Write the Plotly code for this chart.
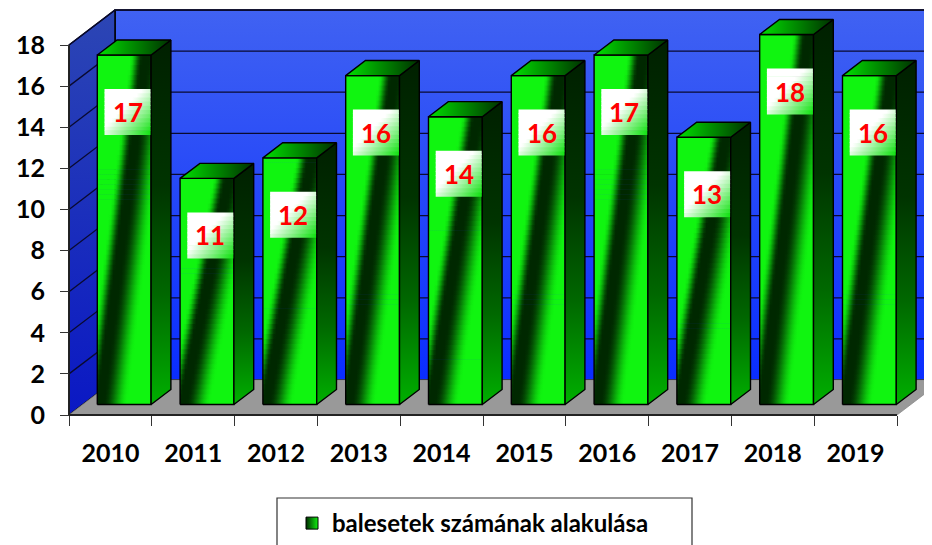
import plotly.graph_objects as go

# ---------------- data ----------------
years = ["2010", "2011", "2012", "2013", "2014", "2015", "2016", "2017", "2018", "2019"]
counts = [17, 11, 12, 16, 14, 16, 17, 13, 18, 16]
y_ticks = [0, 2, 4, 6, 8, 10, 12, 14, 16, 18]
series_name = "balesetek számának alakulása"

# ---------------- geometry (pixel calibration of the pseudo-3D box) ----------------
W, H = 932, 545
OFF = 8                          # page body margin offset
PX_X0, PX_Y0 = 69 - OFF, 415 - OFF   # front plane origin (figure px)
UX, UY = 82.8, 370 / 18          # px per category / px per unit
DX, DY = 46 / UX, 35 / UY        # full depth of the box in data units
BAR_D0, BAR_DD, BAR_W = 0.30, 0.43, 0.65
YTOP = y_ticks[-1]
N = len(years)

L, R, T, B = 40, W, 0, 432
xr = [(L - PX_X0) / UX, (R - PX_X0) / UX]
yr = [(PX_Y0 - B) / UY, (PX_Y0 - T) / UY]

FONT = "Lato"
traces = []


def poly(xs, ys, cs=None, kind="horizontal", color=None, lw=1.2, lc="black", fill=True):
    kw = dict(x=list(xs) + [xs[0]], y=list(ys) + [ys[0]], mode="lines",
              line=dict(color=lc, width=lw), hoverinfo="skip", showlegend=False)
    if fill:
        kw["fill"] = "toself"
        if cs is not None:
            kw["fillgradient"] = dict(type=kind, colorscale=cs)
        else:
            kw["fillcolor"] = color
    return go.Scatter(**kw)


def clip01(t):
    return max(0.0, min(1.0, t))


def mix(c0, c1, t):
    return "rgb(%d,%d,%d)" % tuple(round(a + (b - a) * t) for a, b in zip(c0, c1))


def sliced_rect(x0, x1, y0, y1, px_per_strip, colorfn, samples=21):
    """Rectangle built from thin horizontal strips, each with its own horizontal gradient,
    to imitate a diagonal gradient."""
    out = []
    n = max(4, round((y1 - y0) * UY / px_per_strip))
    eps = 0.7 / UY
    for k in range(n):
        ya = y0 + (y1 - y0) * k / n
        yb = min(y0 + (y1 - y0) * (k + 1) / n + eps, y1)
        h = (k + 0.5) / n
        cs = [[s / (samples - 1), colorfn(s / (samples - 1), h)] for s in range(samples)]
        out.append(poly([x0, x1, x1, x0], [ya, ya, yb, yb], cs=cs, kind="horizontal", lw=0))
    return out


BRIGHT, DARK = (16, 245, 16), (0, 40, 0)


def front_color(x, h):
    c = 0.05 + 0.85 * h
    d = x - c
    if d < 0:
        t = clip01((-d - 0.06) / 0.22)
    else:
        t = clip01((d - 0.06) / 0.45)
    t = t * t * (3 - 2 * t)
    return mix(DARK, BRIGHT, t)


WHITE, LGREEN = (255, 255, 255), (10, 225, 10)


def box_color(x, h):
    t = clip01(((x + 1 - h) / 2 - 0.42) / 0.58)
    return mix(WHITE, LGREEN, t)


# back wall
traces.append(poly([DX, N + DX, N + DX, DX], [DY, DY, YTOP + DY, YTOP + DY],
                   cs=[[0, "#0a2dff"], [1, "#4062f2"]], kind="vertical", lw=1.5))
# left wall
traces.append(poly([0, DX, DX, 0], [0, DY, YTOP + DY, YTOP],
                   cs=[[0, "#0a18c4"], [1, "#2c46b4"]], kind="vertical", lw=1.5))
# floor
traces.append(poly([0, N, N + DX, DX], [0, 0, DY, DY], color="#999999", lw=0.8, lc="#8a8a8a"))

# gridlines
gx, gy = [], []
for v in y_ticks[1:]:
    gx += [0, DX, N + DX, None]
    gy += [v, v + DY, v + DY, None]
traces.append(go.Scatter(x=gx, y=gy, mode="lines", line=dict(color="#0a0a30", width=1.3),
                         hoverinfo="skip", showlegend=False))
# axis lines
traces.append(go.Scatter(x=[0, 0, None, 0, N], y=[0, YTOP, None, 0, 0], mode="lines",
                         line=dict(color="#222222", width=1.8), hoverinfo="skip", showlegend=False))

# bars
side_cs = [[0, "#00b000"], [0.3, "#006800"], [0.6, "#003400"], [1, "#002000"]]
top_cs = [[0, "#00e000"], [1, "#003000"]]

annotations = []
for i, v in enumerate(counts):
    sx = i + (1 - BAR_W) / 2 + BAR_D0 * DX
    ex = sx + BAR_W
    by = BAR_D0 * DY
    ty = v + by
    ddx, ddy = BAR_DD * DX, BAR_DD * DY
    traces += sliced_rect(sx, ex, by, ty, 5, front_color)
    traces.append(poly([sx, ex, ex, sx], [by, by, ty, ty], lw=1.4, fill=False))
    traces.append(poly([ex, ex + ddx, ex + ddx, ex], [by, by + ddy, ty + ddy, ty],
                       cs=side_cs, kind="vertical", lw=1.4))
    traces.append(poly([sx, ex, ex + ddx, sx + ddx], [ty, ty, ty + ddy, ty + ddy],
                       cs=top_cs, kind="horizontal", lw=1.4))
    # data label box
    cx = (sx + ex) / 2 + 0.04
    cy = ty - 57 / UY
    hw, hh = 23 / UX, 23 / UY
    traces += sliced_rect(cx - hw, cx + hw, cy - hh, cy + hh, 4, box_color)
    annotations.append(dict(x=cx, y=cy, xref="x", yref="y", text=str(v), showarrow=False,
                            font=dict(family=FONT, size=26, color="#ff0000", weight="bold")))

# legend entry
traces.append(go.Scatter(x=[None], y=[None], mode="markers", name=series_name, showlegend=True,
                         marker=dict(symbol="square", size=12, color="#002a00",
                                     gradient=dict(type="horizontal", color="#10f010"),
                                     line=dict(color="black", width=1))))

fig = go.Figure(traces)


def px2paper(px, py):
    return (px - OFF - L) / (R - L), (B - (py - OFF)) / (B - T)


lx0, ly0 = px2paper(277, 498)
lx1, ly1 = px2paper(692, 570)
shapes = [dict(type="rect", xref="paper", yref="paper", x0=lx0, x1=lx1, y0=ly1, y1=ly0,
               line=dict(color="#333333", width=1.2), fillcolor="white", layer="below")]

fig.update_layout(
    width=W, height=H,
    margin=dict(l=L, r=W - R, t=T, b=H - B, pad=0, autoexpand=False),
    plot_bgcolor="white", paper_bgcolor="white",
    showlegend=True,
    legend=dict(xref="container", yref="container", x=(292 - OFF) / W, y=1 - (501 - OFF) / H,
                xanchor="left", yanchor="top", bgcolor="rgba(0,0,0,0)",
                font=dict(family=FONT, size=24, color="black", weight="bold"),
                itemwidth=30),
    annotations=annotations,
    shapes=shapes,
    xaxis=dict(range=xr, showgrid=False, zeroline=False, showline=False,
               anchor="free", position=(0 - yr[0]) / (yr[1] - yr[0]),
               tickmode="array", tickvals=[i + 0.5 for i in range(N)], ticktext=years,
               ticks="", ticklabelstandoff=21, tickangle=0,
               tickfont=dict(family=FONT, size=25, color="black", weight="bold"),
               minor=dict(tickmode="array", tickvals=list(range(N + 1)), ticks="outside",
                          ticklen=10, tickcolor="#333333", tickwidth=1.2)),
    yaxis=dict(range=yr, showgrid=False, zeroline=False, showline=False,
               anchor="free", position=(0 - xr[0]) / (xr[1] - xr[0]),
               tickmode="array", tickvals=y_ticks, ticks="outside", ticklen=9,
               tickcolor="#333333", tickwidth=1.2, ticklabelstandoff=10,
               tickfont=dict(family=FONT, size=25, color="black", weight="bold")),
)

fig.write_html("out.html")
